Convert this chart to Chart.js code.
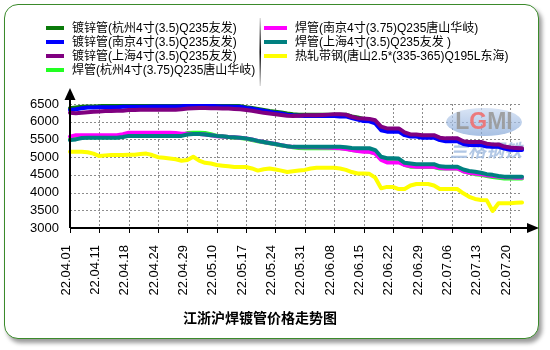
<!DOCTYPE html>
<html>
<head>
<meta charset="utf-8">
<script src="https://cdn.jsdelivr.net/npm/chart.js@4.4.0/dist/chart.umd.min.js"></script>
<style>
  html, body { margin: 0; padding: 0; background: #fff; }
  #wrap { position: relative; width: 550px; height: 350px; }
  #frame {
    position: absolute; left: 4px; top: 4px; width: 533px; height: 333px;
    border: 1.5px solid #3b8a2b; border-radius: 14px;
    box-shadow: 3px 4px 4px rgba(0,0,0,0.4); background: #fff;
  }
  #chart { position: absolute; left: 0; top: 0; }
</style>
</head>
<body>
<div id="wrap">
  <div id="frame"></div>
  <canvas id="chart" width="550" height="350"></canvas>
</div>
<script>
// 交易日（每5个交易日标一个刻度）
const dates = [
  '22.04.01','22.04.02','22.04.06','22.04.07','22.04.08',
  '22.04.11','22.04.12','22.04.13','22.04.14','22.04.15',
  '22.04.18','22.04.19','22.04.20','22.04.21','22.04.22',
  '22.04.24','22.04.25','22.04.26','22.04.27','22.04.28',
  '22.04.29','22.05.05','22.05.06','22.05.07','22.05.09',
  '22.05.10','22.05.11','22.05.12','22.05.13','22.05.16',
  '22.05.17','22.05.18','22.05.19','22.05.20','22.05.23',
  '22.05.24','22.05.25','22.05.26','22.05.27','22.05.30',
  '22.05.31','22.06.01','22.06.02','22.06.06','22.06.07',
  '22.06.08','22.06.09','22.06.10','22.06.13','22.06.14',
  '22.06.15','22.06.16','22.06.17','22.06.20','22.06.21',
  '22.06.22','22.06.23','22.06.24','22.06.27','22.06.28',
  '22.06.29','22.06.30','22.07.01','22.07.04','22.07.05',
  '22.07.06','22.07.07','22.07.08','22.07.11','22.07.12',
  '22.07.13','22.07.14','22.07.15','22.07.18','22.07.19',
  '22.07.20','22.07.21','22.07.22'
];

const yMin = 3000;
const yMax = 6500;
const yStep = 500;

const hzDuXin = [
  6380,6400,6420,6430,6430, 6440,6450,6450,6460,6460,
  6470,6470,6470,6480,6480, 6480,6480,6480,6480,6480,
  6480,6480,6480,6480,6480, 6470,6460,6460,6450,6440,
  6410,6390,6360,6330,6300, 6280,6260,6230,6210,6200,
  6200,6200,6200,6200,6200, 6200,6200,6200,6150,6120,
  6080,6060,6000,5820,5780, 5770,5760,5650,5610,5610,
  5590,5590,5590,5510,5480, 5480,5470,5400,5370,5370,
  5370,5320,5310,5310,5260, 5240,5230,5230
];
const njDuXin = [
  6330,6350,6380,6400,6400, 6410,6410,6410,6410,6420,
  6420,6420,6420,6420,6430, 6430,6430,6430,6430,6440,
  6450,6460,6460,6460,6450, 6440,6430,6430,6420,6420,
  6390,6370,6340,6310,6280, 6250,6230,6200,6180,6170,
  6160,6160,6160,6160,6160, 6160,6150,6150,6100,6060,
  6020,6010,5950,5760,5720, 5720,5720,5620,5580,5580,
  5550,5550,5550,5480,5450, 5450,5450,5370,5340,5340,
  5340,5300,5290,5290,5240, 5210,5200,5200
];
const shDuXin = [
  6250,6240,6250,6270,6280, 6290,6300,6300,6310,6310,
  6330,6330,6340,6340,6340, 6340,6340,6340,6340,6350,
  6370,6380,6390,6390,6380, 6380,6370,6370,6360,6350,
  6330,6310,6280,6250,6230, 6210,6190,6170,6160,6170,
  6180,6180,6180,6190,6200, 6210,6210,6200,6140,6100,
  6090,6080,6040,5860,5810, 5810,5810,5700,5640,5640,
  5620,5620,5620,5550,5530, 5530,5530,5450,5430,5430,
  5430,5380,5360,5360,5300, 5270,5260,5250
];
const hzHanGuan = [
  5500,5530,5560,5560,5560, 5560,5560,5560,5560,5580,
  5620,5620,5620,5620,5620, 5620,5620,5620,5620,5630,
  5680,5690,5690,5680,5650, 5600,5580,5570,5550,5540,
  5520,5480,5450,5420,5390, 5360,5330,5310,5280,5260,
  5250,5250,5250,5250,5250, 5250,5250,5240,5200,5180,
  5170,5150,5110,4960,4900, 4890,4880,4780,4730,4730,
  4720,4720,4720,4680,4680, 4680,4680,4600,4560,4520,
  4500,4470,4440,4420,4400, 4400,4400,4400
];
const njHanGuan = [
  5580,5620,5620,5620,5620, 5620,5620,5620,5620,5650,
  5690,5690,5690,5690,5690, 5690,5690,5690,5680,5660,
  5660,5650,5650,5640,5620, 5590,5580,5570,5560,5550,
  5530,5500,5460,5430,5400, 5370,5340,5310,5290,5280,
  5280,5280,5280,5270,5270, 5260,5250,5230,5200,5170,
  5150,5150,5100,4920,4850, 4850,4850,4780,4750,4730,
  4730,4730,4730,4690,4680, 4680,4680,4600,4560,4540,
  4520,4490,4470,4450,4430, 4430,4420,4420
];
const shHanGuan = [
  5480,5500,5540,5550,5550, 5550,5550,5550,5550,5570,
  5600,5600,5600,5600,5600, 5600,5600,5600,5600,5600,
  5640,5650,5650,5640,5620, 5600,5590,5570,5560,5550,
  5530,5500,5460,5430,5400, 5370,5340,5310,5290,5290,
  5290,5290,5290,5290,5290, 5290,5290,5280,5260,5250,
  5250,5250,5200,5010,4970, 4970,4960,4840,4820,4800,
  4800,4800,4800,4740,4730, 4730,4730,4650,4610,4590,
  4560,4520,4500,4470,4450, 4450,4450,4450
];
const tsDaiGang = [
  5150,5150,5150,5140,5100, 5030,5050,5060,5060,5060,
  5070,5070,5090,5100,5060, 5000,4980,4960,4940,4900,
  4920,5010,4900,4840,4820, 4780,4760,4740,4720,4720,
  4720,4680,4620,4660,4680, 4650,4620,4580,4600,4620,
  4640,4680,4700,4700,4700, 4700,4680,4640,4580,4540,
  4540,4530,4420,4120,4160, 4160,4100,4100,4200,4240,
  4240,4240,4200,4100,4100, 4100,4100,3980,3880,3820,
  3790,3780,3480,3700,3700, 3700,3710,3720
];

const seriesNames = [
  '镀锌管(杭州4寸(3.5)Q235友发)',
  '镀锌管(南京4寸(3.5)Q235友发)',
  '镀锌管(上海4寸(3.5)Q235友发)',
  '焊管(杭州4寸(3.75)Q235唐山华岐)',
  '焊管(南京4寸(3.75)Q235唐山华岐)',
  '焊管(上海4寸(3.5)Q235友发 )',
  '热轧带钢(唐山2.5*(335-365)Q195L东海)'
];
const seriesColors = ['#0a7a0a', '#0000ff', '#800080', '#22ff22', '#ff00ff', '#008080', '#ffff00'];
const seriesData = [hzDuXin, njDuXin, shDuXin, hzHanGuan, njHanGuan, shHanGuan, tsDaiGang];

const CN_FONT = '"Liberation Sans", Arial, "Noto Sans CJK SC", sans-serif';

// 图例位置：左列4项，右列3项
const legendSlots = [
  { x: 46, w: 18, y: 28 }, { x: 46, w: 18, y: 42 }, { x: 46, w: 18, y: 56 }, { x: 46, w: 18, y: 70 },
  { x: 264, w: 23, y: 28 }, { x: 264, w: 23, y: 42 }, { x: 264, w: 23, y: 56 }
];

const decorPlugin = {
  id: 'decor',
  beforeDatasetsDraw(chart) {
    const ctx = chart.ctx;
    const { left, right, top, bottom } = chart.chartArea;
    const xs = chart.scales.x;
    const ys = chart.scales.y;
    ctx.save();

    // 点状网格线
    ctx.strokeStyle = '#8c8c8c';
    ctx.lineWidth = 1;
    ctx.setLineDash([2, 2]);
    ys.ticks.forEach(t => {
      const y = Math.round(ys.getPixelForValue(t.value)) + 0.5;
      ctx.beginPath();
      ctx.moveTo(left, y);
      ctx.lineTo(right, y);
      ctx.stroke();
    });
    dates.forEach((d, i) => {
      if (i % 5) return;
      const x = Math.round(xs.getPixelForValue(i)) + 0.5;
      ctx.beginPath();
      ctx.moveTo(x, top);
      ctx.lineTo(x, bottom);
      ctx.stroke();
    });
    // x轴刻度短线
    ctx.setLineDash([]);
    ctx.strokeStyle = '#000';
    dates.forEach((d, i) => {
      if (i % 5) return;
      const x = Math.round(xs.getPixelForValue(i)) + 0.5;
      ctx.beginPath();
      ctx.moveTo(x, bottom);
      ctx.lineTo(x, bottom + 5);
      ctx.stroke();
    });

    // 兰格水印
    ctx.globalAlpha = 0.7;
    const g = ctx.createLinearGradient(0, 108, 0, 137);
    g.addColorStop(0, '#c8d8f0');
    g.addColorStop(1, '#7fa3d6');
    ctx.fillStyle = g;
    ctx.beginPath();
    ctx.ellipse(484, 122, 38, 14, 0, 0, Math.PI * 2);
    ctx.fill();
    ctx.globalAlpha = 0.9;
    ctx.font = 'bold 23px "Liberation Sans", Arial';
    ctx.textBaseline = 'middle';
    ctx.textAlign = 'left';
    const parts = [['L', '#9a9a9a'], ['G', '#f07070'], ['M', '#9a9a9a'], ['I', '#9a9a9a']];
    let tx = 484 - ctx.measureText('LGMI').width / 2;
    parts.forEach(([ch, c]) => {
      ctx.fillStyle = c;
      ctx.fillText(ch, tx, 123);
      tx += ctx.measureText(ch).width;
    });
    ctx.globalAlpha = 0.85;
    ctx.fillStyle = '#a3bde0';
    ctx.font = 'italic bold 18px "Noto Sans CJK SC"';
    ctx.textAlign = 'center';
    ctx.fillText('兰格钢铁', 486, 150);
    ctx.restore();
  },
  afterDraw(chart) {
    const ctx = chart.ctx;
    const { left, bottom } = chart.chartArea;
    ctx.save();

    // 坐标轴与箭头
    ctx.strokeStyle = '#000';
    ctx.fillStyle = '#000';
    ctx.lineWidth = 2;
    ctx.beginPath();
    ctx.moveTo(left, bottom);
    ctx.lineTo(left, 96);
    ctx.moveTo(left, bottom);
    ctx.lineTo(530, bottom);
    ctx.stroke();
    ctx.beginPath();
    ctx.moveTo(left, 88);
    ctx.lineTo(left - 5.5, 100);
    ctx.lineTo(left + 5.5, 100);
    ctx.closePath();
    ctx.fill();
    ctx.beginPath();
    ctx.moveTo(539, bottom);
    ctx.lineTo(527, bottom - 5);
    ctx.lineTo(527, bottom + 5);
    ctx.closePath();
    ctx.fill();

    // 图例
    ctx.font = '12px ' + CN_FONT;
    ctx.textBaseline = 'middle';
    ctx.textAlign = 'left';
    chart.data.datasets.forEach((ds, i) => {
      const s = legendSlots[i];
      ctx.fillStyle = ds.borderColor;
      ctx.fillRect(s.x, s.y - 2, s.w, 4);
      ctx.fillStyle = '#000';
      ctx.fillText(ds.label, s.x + s.w + 8, s.y + 1);
    });

    // 图例分隔线
    const sep = ctx.createLinearGradient(0, 18, 0, 86);
    sep.addColorStop(0, '#e0e0e0');
    sep.addColorStop(0.5, '#000');
    sep.addColorStop(1, '#e0e0e0');
    ctx.fillStyle = sep;
    ctx.fillRect(259.5, 18, 1.5, 68);

    // 标题
    ctx.fillStyle = '#000';
    ctx.font = 'bold 14px "Noto Sans CJK SC"';
    ctx.textAlign = 'center';
    ctx.fillText('江浙沪焊镀管价格走势图', 260, 318);
    ctx.restore();
  }
};

const datasets = seriesData.map((d, i) => ({
  label: seriesNames[i],
  data: d,
  borderColor: seriesColors[i],
  backgroundColor: seriesColors[i],
  borderWidth: 4,
  pointRadius: 0,
  tension: 0,
  borderJoinStyle: 'round',
  borderCapStyle: 'round',
  order: seriesData.length - i
}));

new Chart(document.getElementById('chart'), {
  type: 'line',
  data: { labels: dates, datasets },
  options: {
    responsive: false,
    animation: false,
    layout: { padding: { left: 0, right: 28, top: 104, bottom: 0 } },
    plugins: {
      legend: { display: false },
      title: { display: false },
      tooltip: { enabled: false }
    },
    scales: {
      x: {
        type: 'category',
        offset: false,
        afterFit: s => { s.height = 122; },
        grid: { display: false },
        border: { display: false },
        ticks: {
          autoSkip: false,
          minRotation: 90,
          maxRotation: 90,
          padding: 9,
          labelOffset: -4,
          color: '#000',
          font: { family: '"Liberation Sans", Arial', size: 13 },
          callback: (v, i) => (i % 5 === 0 ? dates[i] : null)
        }
      },
      y: {
        min: yMin,
        max: yMax,
        afterFit: s => { s.width = 70; },
        grid: { display: false },
        border: { display: false },
        ticks: {
          stepSize: yStep,
          autoSkip: false,
          padding: 3,
          color: '#000',
          font: { family: '"Liberation Sans", Arial', size: 13 },
          callback: v => String(v)
        }
      }
    }
  },
  plugins: [decorPlugin]
});
</script>
</body>
</html>
